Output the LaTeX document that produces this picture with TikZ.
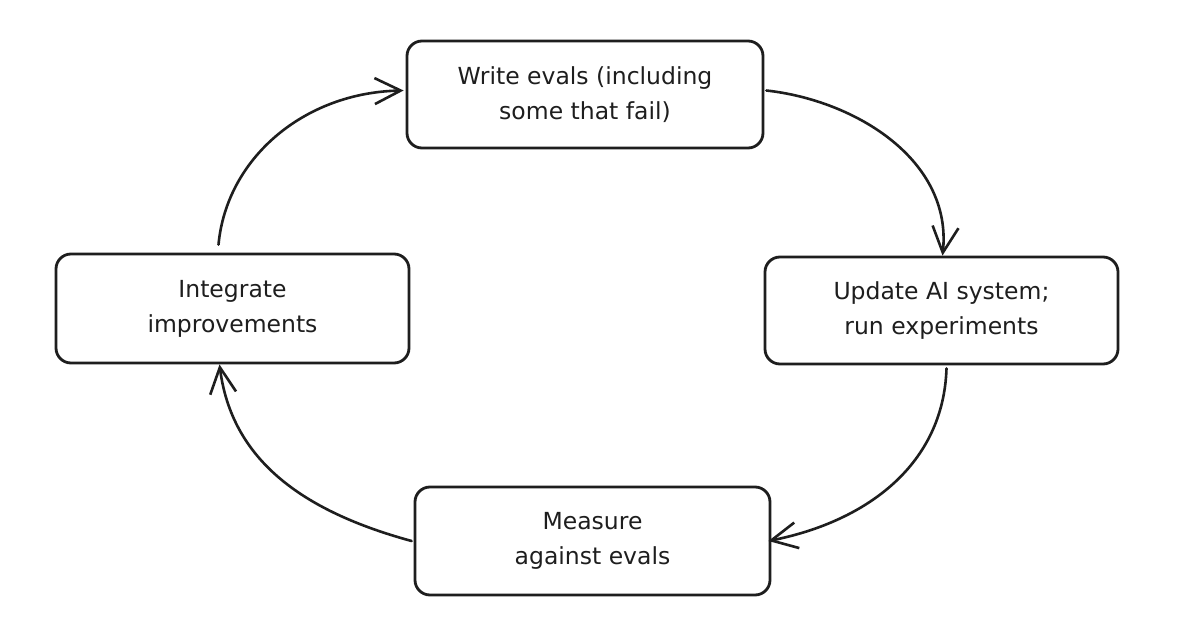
\documentclass[tikz,border=0pt]{standalone}
\usepackage{fontspec}
\setmainfont{DejaVu Sans}
\usetikzlibrary{arrows.meta}
\definecolor{ink}{HTML}{1E1E1E}
\begin{document}
\begin{tikzpicture}[x=1pt,y=-1pt,
  box/.style={draw=ink, line width=2.8pt, rounded corners=15pt, align=center,
    text=ink, font=\fontsize{23.5}{35}\selectfont, inner sep=0pt},
  flow/.style={draw=ink, line width=2.6pt, line cap=round,
    -{Straight Barb[length=26pt,width=26pt,line width=2.6pt]}}]
\useasboundingbox[fill=white] (0,0) rectangle (1184,626);
\node[box, minimum width=356pt, minimum height=107pt] (w) at (585,94.5) {Write evals (including\\some that fail)};
\node[box, minimum width=353pt, minimum height=107pt] (u) at (941.5,310.5) {Update AI system;\\run experiments};
\node[box, minimum width=355pt, minimum height=108pt] (m) at (592.5,541) {Measure\\against evals};
\node[box, minimum width=353pt, minimum height=109pt] (g) at (232.5,308.5) {Integrate\\improvements};
\draw[flow] ([xshift=-14pt,yshift=8pt]g.north) .. controls +(8,-86) and +(-100,2) .. ([xshift=-2pt,yshift=4pt]w.west);
\draw[flow] ([xshift=2pt,yshift=4pt]w.east) .. controls +(90,10) and +(10,-95) .. ([xshift=1pt]u.north);
\draw[flow] ([xshift=5pt,yshift=-3pt]u.south) .. controls +(-3,95) and +(100,-20) .. ([xshift=-3pt]m.east);
\draw[flow] ([xshift=-2pt]m.west) .. controls +(-110,-30) and +(12,95) .. ([xshift=-13pt]g.south);
\end{tikzpicture}
\end{document}
